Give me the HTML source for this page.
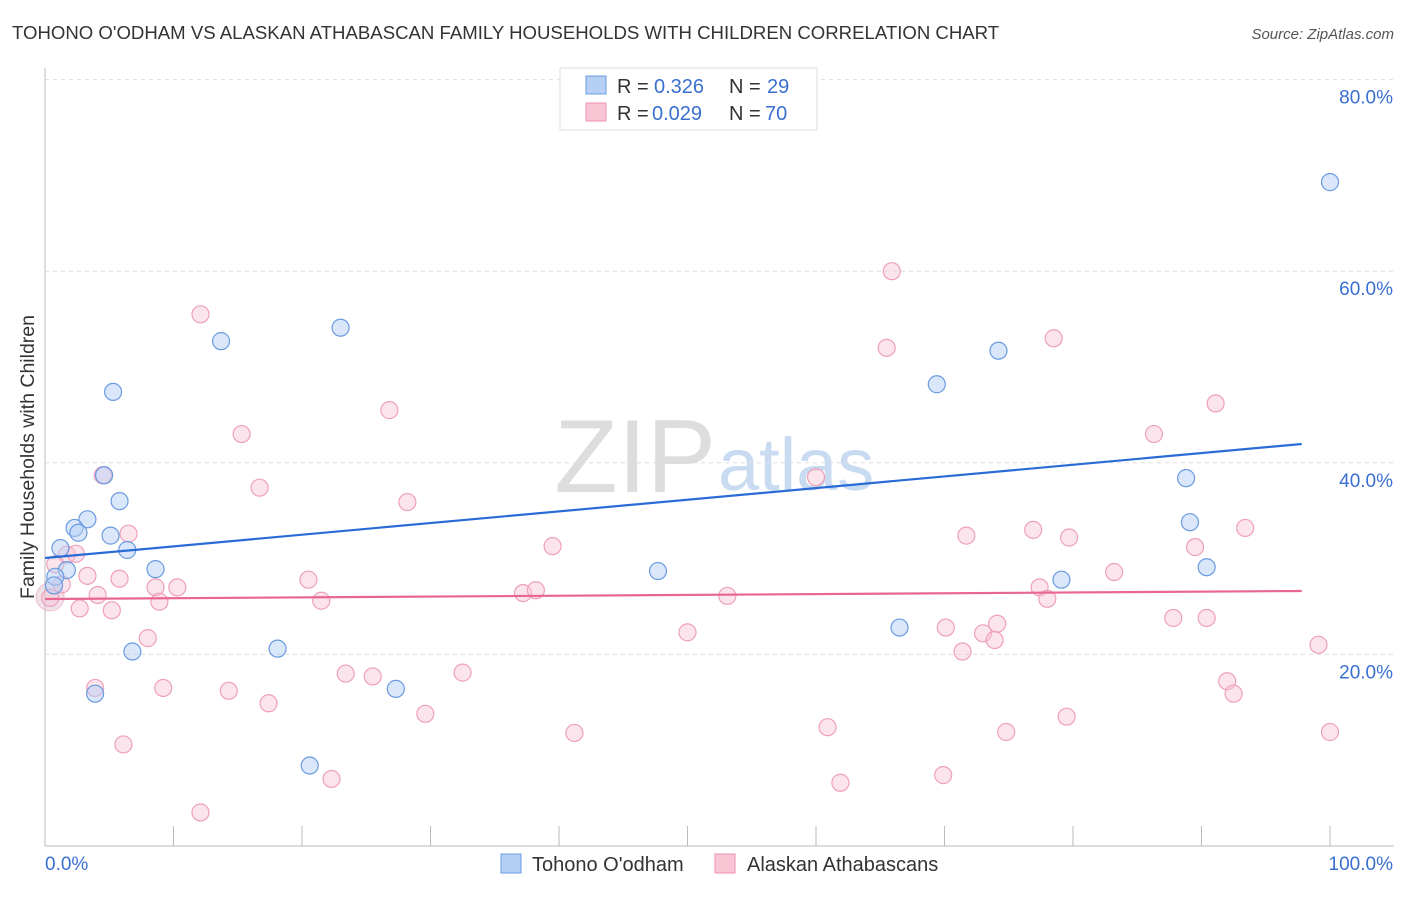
<!DOCTYPE html>
<html><head><meta charset="utf-8"><style>
body{margin:0;background:#fff;font-family:"Liberation Sans",sans-serif;}
svg text{font-family:"Liberation Sans",sans-serif;}
</style></head><body>
<svg id="c" width="1406" height="892">
<text x="12" y="39" font-size="18.6" fill="#333">TOHONO O'ODHAM VS ALASKAN ATHABASCAN FAMILY HOUSEHOLDS WITH CHILDREN CORRELATION CHART</text>
<text x="1394" y="39" font-size="15" fill="#555" text-anchor="end" font-style="italic">Source: ZipAtlas.com</text>
<text x="716" y="492" font-size="104" fill="#ddd" text-anchor="end" font-family="Liberation Serif">ZIP</text>
<text x="718" y="490" font-size="74" fill="#c9dbf0">atlas</text>
<text transform="translate(34,457) rotate(-90)" font-size="19.5" fill="#333" text-anchor="middle">Family Households with Children</text>
<g id="grid"></g><g id="pts"></g><g id="lines"></g>
<g>
<rect x="560" y="68" width="257" height="62" fill="#fff" stroke="#ddd"/>
<rect x="586" y="76" width="20" height="18" fill="#b6d0f5" stroke="#6a9be0"/>
<rect x="586" y="103" width="20" height="18" fill="#f9c4d4" stroke="#ea90ae"/>
<text x="617" y="93" font-size="20" fill="#333">R = </text><text x="654" y="93" font-size="20" fill="#3a6fd0">0.326</text>
<text x="729" y="93" font-size="20" fill="#333">N = </text><text x="767" y="93" font-size="20" fill="#3a6fd0">29</text>
<text x="617" y="120" font-size="20" fill="#333">R = </text><text x="652" y="120" font-size="20" fill="#3a6fd0">0.029</text>
<text x="729" y="120" font-size="20" fill="#333">N = </text><text x="765" y="120" font-size="20" fill="#3a6fd0">70</text>
</g>
<g>
<rect x="501" y="854" width="20" height="19" fill="#b6d0f5" stroke="#6a9be0"/>
<text x="532" y="871" font-size="20" fill="#333">Tohono O'odham</text>
<rect x="715" y="854" width="20" height="19" fill="#f9c4d4" stroke="#ea90ae"/>
<text x="747" y="871" font-size="20" fill="#333">Alaskan Athabascans</text>
</g>
</svg>
<script>
const blueX=[100,23.0,13.7,74.2,5.3,69.4,4.6,5.8,3.3,2.3,2.6,5.1,1.2,6.4,88.8,89.1,90.4,79.1,47.7,8.6,1.7,0.8,0.7,6.8,18.1,66.5,3.9,27.3,20.6];
const blueY=[69.3,54.1,52.7,51.7,47.4,48.2,38.7,36.0,34.1,33.2,32.7,32.4,31.1,30.9,38.4,33.8,29.1,27.8,28.7,28.9,28.8,28.1,27.2,20.3,20.6,22.8,15.9,16.4,8.4];
const pinkX=[65.9,12.1,65.5,78.5,26.8,91.1,15.3,86.3,16.7,28.2,60.0,4.5,6.5,71.7,76.9,79.7,93.4,39.5,89.5,1.7,2.4,0.8,3.3,5.8,20.5,8.6,10.3,1.3,77.4,78.0,83.2,37.2,38.2,53.1,4.1,8.9,21.5,2.7,5.2,0.4,8.0,50.0,70.1,73.0,74.1,73.9,71.4,87.8,90.4,99.1,3.9,9.2,14.3,17.4,23.4,25.5,32.5,92.0,92.5,29.6,79.5,6.1,41.2,60.9,74.8,100,22.3,61.9,69.9,12.1];
const pinkY=[60.0,55.5,52.0,53.0,45.5,46.2,43.0,43.0,37.4,35.9,38.5,38.7,32.6,32.4,33.0,32.2,33.2,31.3,31.2,30.4,30.5,29.4,28.2,27.9,27.8,27.0,27.0,27.3,27.0,25.8,28.6,26.4,26.7,26.1,26.2,25.5,25.6,24.8,24.6,25.9,21.7,22.3,22.8,22.2,23.2,21.5,20.3,23.8,23.8,21.0,16.5,16.5,16.2,14.9,18.0,17.7,18.1,17.2,15.9,13.8,13.5,10.6,11.8,12.4,11.9,11.9,7.0,6.6,7.4,3.5];
const yTicks=[20,40,60,80];
const yTickLabels=["20.0%","40.0%","60.0%","80.0%"];
const xTicks=[0,10,20,30,40,50,60,70,80,90,100];
const blueFit=[30.06,0.1217];
const pinkFit=[25.78,0.0086];
const NS="http://www.w3.org/2000/svg";
const sx=v=>45+v*12.85, sy=v=>846-v*9.58;
function mk(t,a,p){const e=document.createElementNS(NS,t);for(const k in a)e.setAttribute(k,a[k]);p.appendChild(e);return e;}
const g=document.getElementById('grid');
const ax=mk('line',{x1:45,y1:68,x2:45,y2:846,stroke:'#bbb'},g);

const xa=mk('line',{x1:45,y1:846,x2:1394,y2:846,stroke:'#bbb'},g);

yTicks.forEach((t,i)=>{
 const l=mk('line',{x1:45,x2:1394,y1:sy(t),y2:sy(t),stroke:'#ddd','stroke-dasharray':'4,4'},g);
 
 const tx=mk('text',{x:1393,y:sy(t)+24,'font-size':19,fill:'#3a6fd0','text-anchor':'end'},g);
 tx.textContent=yTickLabels[i];
 
});
xTicks.forEach(t=>{
 const l=mk('line',{x1:sx(t),x2:sx(t),y1:826,y2:846,stroke:'#bbb'},g);
 
});
const x0=mk('text',{x:45,y:870,'font-size':19,fill:'#3a6fd0'},g);x0.textContent='0.0%';

const x1=mk('text',{x:1393,y:870,'font-size':19,fill:'#3a6fd0','text-anchor':'end'},g);x1.textContent='100.0%';

const P=document.getElementById('pts');
const big=mk('circle',{cx:sx(0.4),cy:sy(26),r:14,fill:'rgba(220,190,210,0.45)',stroke:'rgba(234,144,174,0.5)'},P);

pinkX.forEach((x,i)=>{const c=mk('circle',{cx:sx(x),cy:sy(pinkY[i]),r:8.5,fill:'rgba(249,196,212,0.45)',stroke:'#eea0b9','stroke-width':1.2},P);
 });
blueX.forEach((x,i)=>{const c=mk('circle',{cx:sx(x),cy:sy(blueY[i]),r:8.5,fill:'rgba(182,208,245,0.5)',stroke:'#6a9be0','stroke-width':1.2},P);
 });
const L=document.getElementById('lines');
const bl=mk('line',{x1:sx(0),y1:sy(blueFit[0]),x2:sx(97.8),y2:sy(blueFit[0]+blueFit[1]*97.8),stroke:'#2a6cd6','stroke-width':2.2},L);

const pl=mk('line',{x1:sx(0),y1:sy(pinkFit[0]),x2:sx(97.8),y2:sy(pinkFit[0]+pinkFit[1]*97.8),stroke:'#e86690','stroke-width':2.2},L);

</script>
</body></html>
